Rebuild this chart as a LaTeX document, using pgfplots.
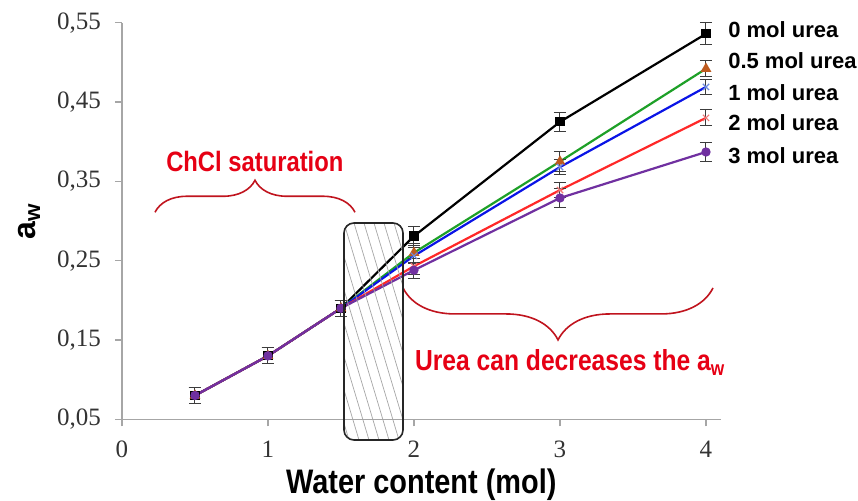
\documentclass[border=0pt]{standalone}
\usepackage{fontspec}
\setmainfont{Liberation Serif}
\newfontfamily\sansb{Liberation Sans}
\newfontfamily\narrowb[FakeStretch=0.85]{Liberation Sans}
\usepackage{pgfplots}
\pgfplotsset{compat=1.18}
\usetikzlibrary{decorations.pathreplacing}

\definecolor{axisgray}{RGB}{166,166,166}
\definecolor{errgray}{RGB}{60,60,60}
\definecolor{sgreen}{RGB}{30,160,40}
\definecolor{sblue}{RGB}{10,20,230}
\definecolor{sred}{RGB}{255,40,40}
\definecolor{spurple}{RGB}{112,48,160}
\definecolor{triorange}{RGB}{190,90,30}
\definecolor{xblue}{RGB}{110,140,225}
\definecolor{xred}{RGB}{240,120,120}
\definecolor{annred}{RGB}{230,0,20}
\definecolor{bracered}{RGB}{192,20,30}

\begin{document}
\begin{tikzpicture}
\begin{axis}[
    at={(0,0)}, anchor=south west,
    scale only axis, width=299.3pt, height=198.3pt,
    xmin=0, xmax=4.1, ymin=0.05, ymax=0.55,
    clip=false,
    axis lines*=left,
    axis line style={draw=axisgray, line width=0.75pt},
    tick align=outside, major tick length=3.5pt,
    tick style={draw=axisgray, line width=0.6pt},
    xtick={0,1,2,3,4},
    ytick={0.05,0.15,0.25,0.35,0.45,0.55},
    /pgf/number format/assume math mode=true,
    ticklabel style={font=\fontsize{12.5}{13}\selectfont, text=black!80},
    yticklabel style={xshift=-3.5pt, /pgf/number format/.cd, use comma, fixed, fixed zerofill, precision=2},
    xticklabel style={yshift=-4pt},
    xlabel={Water content (mol)},
    xlabel style={at={(axis description cs:0.5,0)}, anchor=base, yshift=-37pt,
        font=\narrowb\bfseries\fontsize{17}{18}\selectfont},
    ylabel={a\textsubscript{w}},
    ylabel style={at={(axis description cs:-0.1453,0.5)}, anchor=base,
        font=\sansb\bfseries\fontsize{16}{18}\selectfont},
    every axis plot/.append style={line width=1.1pt},
]
\addplot[color=black, mark=square*, mark size=1.75pt, mark options={solid, fill=black},
    error bars/.cd, y dir=both, y explicit,
    error bar style={draw=errgray, line width=0.5pt},
    error mark options={rotate=90, mark size=3pt, draw=errgray, line width=0.5pt}]
coordinates {(0.5,0.08) +- (0,0.01) (1,0.13) +- (0,0.01) (1.5,0.19) +- (0,0.01)
    (2,0.281) +- (0,0.012) (3,0.425) +- (0,0.012) (4,0.536) +- (0,0.014)};
\addplot[color=sgreen, mark=triangle*, mark size=2pt, mark options={solid, fill=triorange, draw=triorange},
    error bars/.cd, y dir=both, y explicit,
    error bar style={draw=errgray, line width=0.5pt},
    error mark options={rotate=90, mark size=3pt, draw=errgray, line width=0.5pt}]
coordinates {(0.5,0.08) +- (0,0.01) (1,0.13) +- (0,0.01) (1.5,0.19) +- (0,0.01)
    (2,0.260) +- (0,0.012) (3,0.375) +- (0,0.012) (4,0.492) +- (0,0.01)};
\addplot[color=sblue, mark=x, mark size=2.2pt, mark options={solid, draw=xblue, line width=0.6pt},
    error bars/.cd, y dir=both, y explicit,
    error bar style={draw=errgray, line width=0.5pt},
    error mark options={rotate=90, mark size=3pt, draw=errgray, line width=0.5pt}]
coordinates {(0.5,0.08) +- (0,0.01) (1,0.13) +- (0,0.01) (1.5,0.19) +- (0,0.01)
    (2,0.256) +- (0,0.01) (3,0.368) +- (0,0.01) (4,0.469) +- (0,0.01)};
\addplot[color=sred, mark=x, mark size=2.2pt, mark options={solid, draw=xred, line width=0.6pt},
    error bars/.cd, y dir=both, y explicit,
    error bar style={draw=errgray, line width=0.5pt},
    error mark options={rotate=90, mark size=3pt, draw=errgray, line width=0.5pt}]
coordinates {(0.5,0.08) +- (0,0.01) (1,0.13) +- (0,0.01) (1.5,0.19) +- (0,0.01)
    (2,0.243) +- (0,0.01) (3,0.339) +- (0,0.01) (4,0.430) +- (0,0.01)};
\addplot[color=spurple, mark=*, mark size=1.75pt, mark options={solid, fill=spurple},
    error bars/.cd, y dir=both, y explicit,
    error bar style={draw=errgray, line width=0.5pt},
    error mark options={rotate=90, mark size=3pt, draw=errgray, line width=0.5pt}]
coordinates {(0.5,0.08) +- (0,0.01) (1,0.13) +- (0,0.01) (1.5,0.19) +- (0,0.01)
    (2,0.238) +- (0,0.01) (3,0.329) +- (0,0.012) (4,0.387) +- (0,0.012)};

% series names at the line ends
\begin{scope}[every node/.style={anchor=west, inner sep=0pt, font=\sansb\bfseries\fontsize{11}{12}\selectfont}]
\node at (axis cs:4.15,0.541) {0 mol urea};
\node at (axis cs:4.15,0.502) {0.5 mol urea};
\node at (axis cs:4.15,0.462) {1 mol urea};
\node at (axis cs:4.15,0.424) {2 mol urea};
\node at (axis cs:4.15,0.383) {3 mol urea};
\end{scope}

% braces and red notes
\draw[bracered, line width=0.8pt, decorate, decoration={brace, amplitude=16pt}]
    (axis cs:0.226,0.311) -- (axis cs:1.596,0.311);
\draw[bracered, line width=0.8pt, decorate, decoration={brace, amplitude=26pt}]
    (axis cs:4.048,0.2156) -- (axis cs:1.925,0.2156);
\node[anchor=base, inner sep=0pt, text=annred, font=\narrowb\bfseries\fontsize{14}{16}\selectfont]
    at (axis cs:0.91,0.362) {ChCl saturation};
\node[anchor=base, inner sep=0pt, text=annred, font=\narrowb\bfseries\fontsize{14.5}{16}\selectfont]
    at (axis cs:3.07,0.111) {Urea can decreases the a\textsubscript{w}};
\end{axis}

% hatched box over the saturation region
\begin{scope}
\clip[rounded corners=5pt] (111pt,-10.35pt) rectangle (140.5pt,98.15pt);
\foreach \k in {-7,...,6}
  \draw[gray!70, line width=0.35pt] (111pt+\k*5pt,98.15pt) -- ++(32.5pt,-108.5pt);
\end{scope}
\draw[black!85, line width=0.8pt, rounded corners=5pt] (111pt,-10.35pt) rectangle (140.5pt,98.15pt);

\pgfresetboundingbox
\path (-61pt,-40.85pt) rectangle (368pt,209.65pt);
\end{tikzpicture}
\end{document}
